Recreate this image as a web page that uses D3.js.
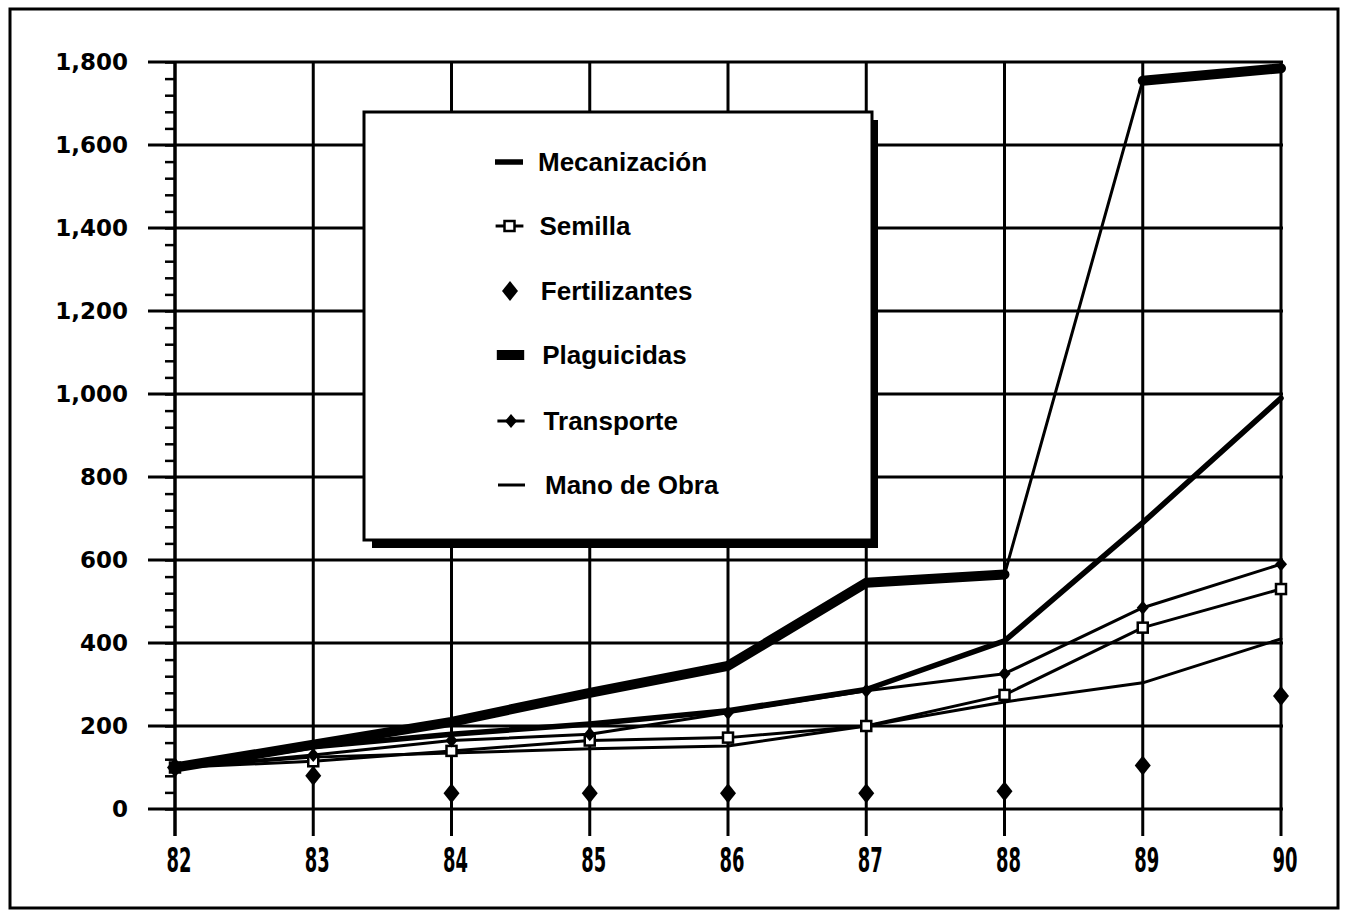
<!DOCTYPE html>
<html>
<head>
<meta charset="utf-8">
<script src="https://cdn.jsdelivr.net/npm/d3@7/dist/d3.min.js"></script>
<style>
  body { margin: 0; background: #fff; }
  text { fill: #000; }
</style>
</head>
<body>
<svg id="chart" width="1346" height="916"></svg>
<script>
"use strict";
// indices, 1982 = 100
var years = [82, 83, 84, 85, 86, 87, 88, 89, 90];
var mecanizacion = [100, 150, 180, 205, 237, 288, 405, 690, 990];
var semilla      = [100, 115, 140, 165, 172, 200, 275, 437, 530];
var fertilizantes = [100, 80, 38, 38, 38, 38, 43, 105, 272];
var plaguicidas  = [100, 155, 210, 280, 345, 545, 565, 1755, 1785];
var transporte   = [100, 130, 165, 180, 232, 285, 326, 485, 590];
var manoDeObra   = [100, 125, 135, 145, 152, 200, 258, 304, 410];
var yTicks = [0, 200, 400, 600, 800, 1000, 1200, 1400, 1600, 1800];

// thinSeg: segment drawn thin in the original (steep jump 88 -> 89)
var series = [
  {name: "Mecanización", values: mecanizacion, width: 5.5, marker: null},
  {name: "Semilla", values: semilla, width: 3, marker: "square"},
  {name: "Fertilizantes", values: fertilizantes, width: 0, marker: "bigDiamond"},
  {name: "Plaguicidas", values: plaguicidas, width: 10, marker: null, thinSeg: 6},
  {name: "Transporte", values: transporte, width: 3, marker: "diamond"},
  {name: "Mano de Obra", values: manoDeObra, width: 3, marker: null}
];

var svg = d3.select("#chart");
var x = d3.scaleLinear().domain([82, 90]).range([175, 1281]);
var y = d3.scaleLinear().domain([0, 1800]).range([809, 62]);

// outer frame
svg.append("rect").attr("x", 10).attr("y", 9).attr("width", 1328).attr("height", 899)
  .attr("fill", "none").attr("stroke", "#000").attr("stroke-width", 3);

// horizontal grid
svg.append("g").selectAll("line").data(yTicks).join("line")
  .attr("x1", 148).attr("x2", 1283)
  .attr("y1", d => y(d)).attr("y2", d => y(d))
  .attr("stroke", "#000").attr("stroke-width", 3);

// vertical grid
svg.append("g").selectAll("line").data(years).join("line")
  .attr("x1", d => x(d)).attr("x2", d => x(d))
  .attr("y1", y(1800)).attr("y2", 836)
  .attr("stroke", "#000").attr("stroke-width", d => d === 82 ? 3.5 : 3);

// minor ticks on y axis
var minor = d3.axisLeft(y).tickValues(d3.range(0, 1801, 40)).tickSize(10).tickFormat("");
var gMinor = svg.append("g").attr("transform", "translate(" + x(82) + ",0)").call(minor);
gMinor.select(".domain").remove();
gMinor.selectAll("line").attr("stroke", "#000").attr("stroke-width", 2.5);

// y labels
svg.append("g").selectAll("text").data(yTicks).join("text")
  .attr("x", 128).attr("y", d => y(d)).attr("dy", "0.36em")
  .attr("text-anchor", "end")
  .style("font", "bold 23px 'DejaVu Sans'")
  .text(d => d3.format(",")(d));

// x labels
svg.append("g").selectAll("text").data(years).join("text")
  .attr("x", d => x(d) + 4).attr("y", 872)
  .attr("text-anchor", "middle")
  .attr("textLength", 25).attr("lengthAdjust", "spacingAndGlyphs")
  .style("font", "bold 34px 'DejaVu Sans'")
  .text(d => d);

var line = d3.line().x(d => x(d[0])).y(d => y(d[1]));

var gLines = svg.append("g");
series.filter(s => s.width > 0).forEach(function (s) {
  var pts = s.values.map((v, i) => [years[i], v]);
  var parts = [];
  if (s.thinSeg != null) {
    parts.push({p: pts.slice(0, s.thinSeg + 1), w: s.width});
    parts.push({p: pts.slice(s.thinSeg, s.thinSeg + 2), w: 3});
    parts.push({p: pts.slice(s.thinSeg + 1), w: s.width});
  } else {
    parts.push({p: pts, w: s.width});
  }
  parts.forEach(function (part) {
    gLines.append("path").attr("d", line(part.p))
      .attr("fill", "none").attr("stroke", "#000")
      .attr("stroke-width", part.w).attr("stroke-linejoin", "round").attr("stroke-linecap", "round");
  });
});

function drawMarker(g, type, cx, cy) {
  if (type === "square") {
    g.append("rect").attr("x", cx - 5).attr("y", cy - 5).attr("width", 10).attr("height", 10)
      .attr("fill", "#fff").attr("stroke", "#000").attr("stroke-width", 2.5);
  } else if (type === "diamond") {
    g.append("path").attr("d", "M" + cx + "," + (cy - 7) + "L" + (cx + 6) + "," + cy + "L" + cx + "," + (cy + 7) + "L" + (cx - 6) + "," + cy + "Z")
      .attr("fill", "#000");
  } else if (type === "bigDiamond") {
    g.append("path").attr("d", "M" + cx + "," + (cy - 10) + "L" + (cx + 8) + "," + cy + "L" + cx + "," + (cy + 10) + "L" + (cx - 8) + "," + cy + "Z")
      .attr("fill", "#000");
  }
}

var gMarks = svg.append("g");
series.filter(s => s.marker).forEach(function (s) {
  s.values.forEach(function (v, i) {
    drawMarker(gMarks, s.marker, x(years[i]), y(v));
  });
});

// legend box with shadow
var legend = svg.append("g");
legend.append("rect").attr("x", 372).attr("y", 120).attr("width", 506).attr("height", 428).attr("fill", "#000");
legend.append("rect").attr("x", 364).attr("y", 112).attr("width", 508).attr("height", 428)
  .attr("fill", "#fff").attr("stroke", "#000").attr("stroke-width", 3);

var legendY = [162, 226, 291, 355, 421, 485];
series.forEach(function (s, i) {
  var ly = legendY[i];
  var x0 = 495 + i * 0.6, x1 = 523 + i * 0.4;
  if (s.name === "Plaguicidas") {
    legend.append("rect").attr("x", x0).attr("y", ly - 5).attr("width", x1 - x0).attr("height", 10).attr("fill", "#000");
  } else if (s.width > 0) {
    legend.append("line").attr("x1", x0).attr("x2", x1).attr("y1", ly).attr("y2", ly)
      .attr("stroke", "#000").attr("stroke-width", s.width);
  }
  if (s.marker) drawMarker(legend, s.marker, (x0 + x1) / 2, ly);
  legend.append("text").attr("x", 538 + i * 1.4).attr("y", ly).attr("dy", "0.36em")
    .style("font", "bold 26px 'Liberation Sans'")
    .text(s.name);
});
</script>
</body>
</html>
